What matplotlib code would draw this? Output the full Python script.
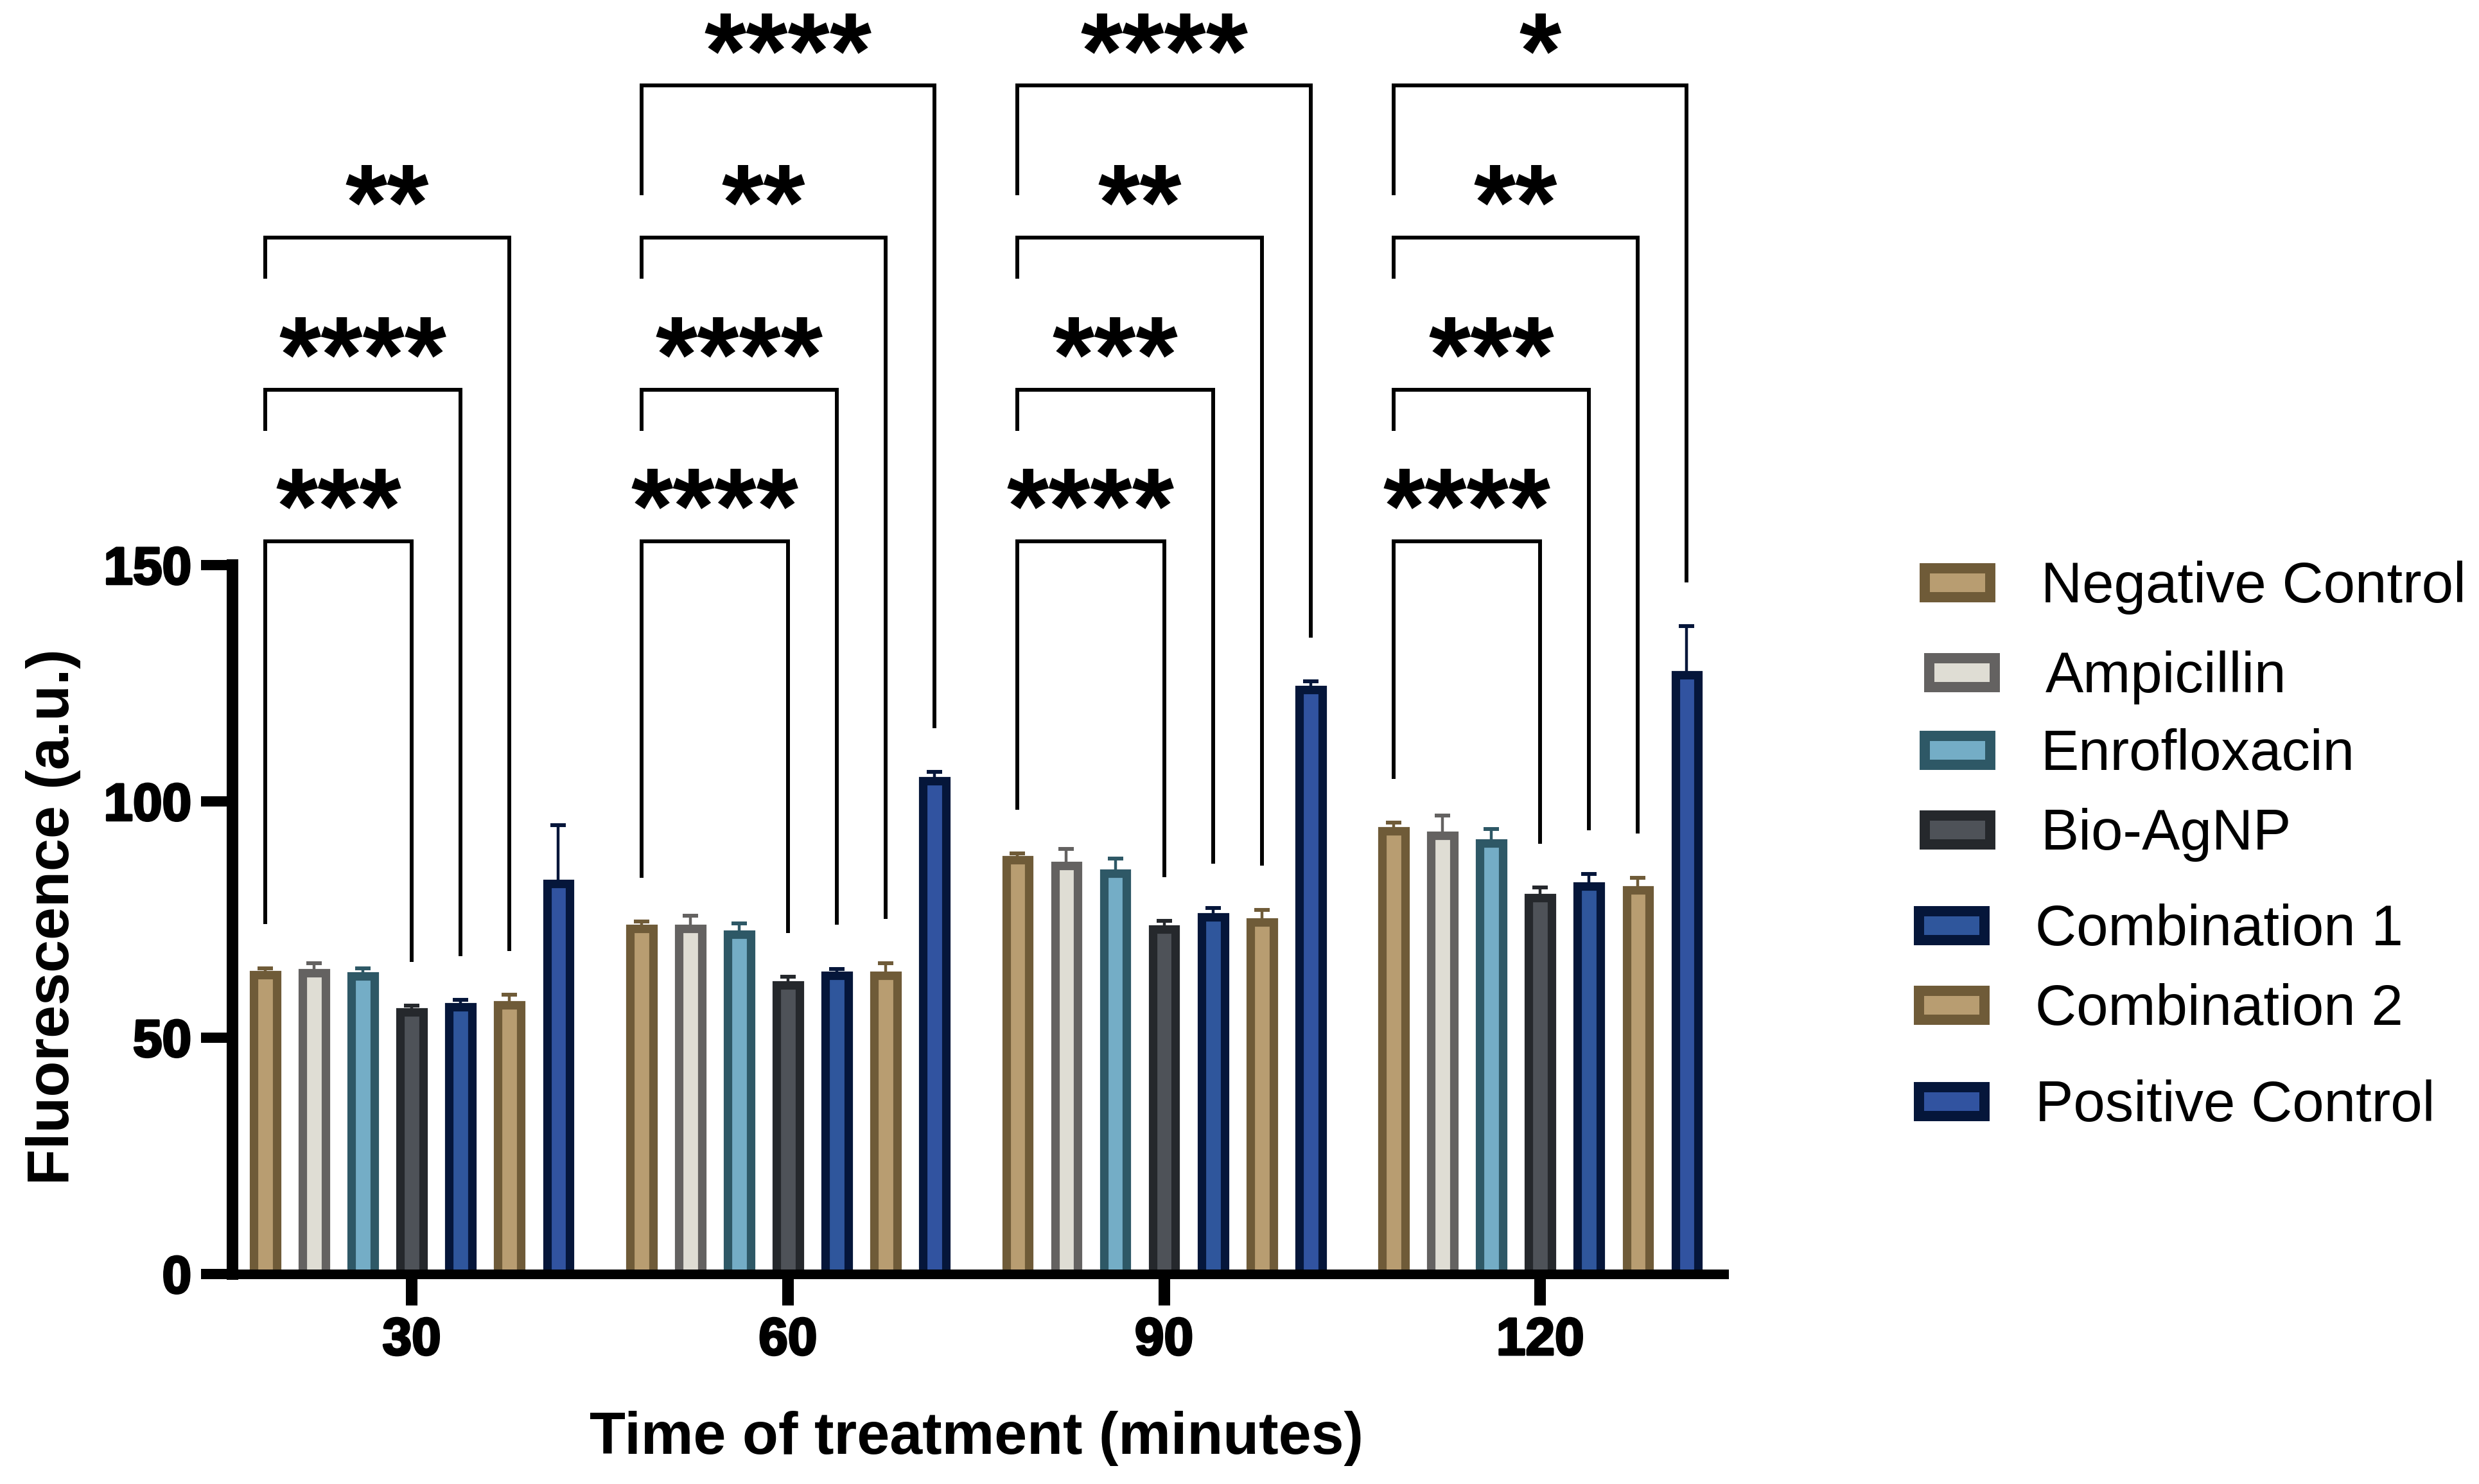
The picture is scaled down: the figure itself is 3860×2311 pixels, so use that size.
import matplotlib
matplotlib.use("Agg")
import matplotlib.pyplot as plt
import matplotlib.patheffects as pe
from matplotlib.patches import Rectangle
import numpy as np

# time points (minutes)
times = ["30", "60", "90", "120"]

series_names = ["Negative Control", "Ampicillin", "Enrofloxacin", "Bio-AgNP",
                "Combination 1", "Combination 2", "Positive Control"]

# mean fluorescence (a.u.) per time point
neg_ctrl = [63.3, 73.1, 87.7, 93.7]
ampicillin = [63.7, 73.1, 86.4, 92.8]
enrofloxacin = [63.0, 71.9, 84.8, 91.2]
bio_agnp = [55.5, 61.1, 72.9, 79.6]
combination_1 = [56.5, 63.2, 75.5, 82.0]
combination_2 = [56.9, 63.2, 74.4, 81.2]
pos_ctrl = [82.6, 104.3, 123.6, 126.8]

# upper error bars
neg_ctrl_err = [1.4, 1.5, 1.3, 1.8]
ampicillin_err = [2.0, 2.7, 3.5, 4.2]
enrofloxacin_err = [1.7, 2.3, 3.1, 3.0]
bio_agnp_err = [1.3, 1.8, 1.8, 2.2]
combination_1_err = [1.5, 1.4, 2.0, 2.6]
combination_2_err = [2.2, 2.6, 2.7, 2.7]
pos_ctrl_err = [12.4, 1.9, 1.8, 10.3]

# comparisons against Negative Control: (series index, stars)
sig_30 = [(3, "***"), (4, "****"), (5, "**")]
sig_60 = [(3, "****"), (4, "****"), (5, "**"), (6, "****")]
sig_90 = [(3, "****"), (4, "***"), (5, "**"), (6, "****")]
sig_120 = [(3, "****"), (4, "***"), (5, "**"), (6, "*")]

means = [neg_ctrl, ampicillin, enrofloxacin, bio_agnp, combination_1, combination_2, pos_ctrl]
errors = [neg_ctrl_err, ampicillin_err, enrofloxacin_err, bio_agnp_err,
          combination_1_err, combination_2_err, pos_ctrl_err]
significance = [sig_30, sig_60, sig_90, sig_120]

edge_colors = ["#6f5b38", "#646261", "#2e5866", "#25282c", "#05163a", "#6f5b38", "#05163a"]
face_colors = ["#b89d71", "#dfddd4", "#74adc6", "#4e5258", "#2f569c", "#b89d71", "#3153a0"]

W, H = 3860, 2311
fig = plt.figure(figsize=(W / 100, H / 100), dpi=100)
ax = fig.add_axes([0.0938, 0.1415, 0.6016, 0.4777])

group_step = 7.7
bar_w = 0.47
centers = np.arange(len(times)) * group_step

for i in range(len(series_names)):
    xs = centers + (i - 3)
    ax.bar(xs, means[i], width=bar_w, color=face_colors[i], edgecolor=edge_colors[i],
           linewidth=9.5, zorder=2)
    ax.errorbar(xs, means[i], yerr=[np.zeros(len(times)), errors[i]], fmt="none",
                ecolor=edge_colors[i], elinewidth=3.2, capsize=8.5, capthick=4.3, zorder=3)

# significance brackets
bracket_base = 155.0
bracket_step = 32.15
leg_gap = 9.3
left_leg = [None, 8.7, 8.7, 23.2]
star_dy = -0.3
line_kw = dict(color="black", lw=4.3, clip_on=False, solid_joinstyle="miter",
               solid_capstyle="butt", zorder=4)
for g, comps in enumerate(significance):
    tops = [means[i][g] + errors[i][g] + leg_gap for i in range(len(series_names))]
    x0 = centers[g] - 3
    for k, (j, stars) in enumerate(comps):
        y = bracket_base + k * bracket_step
        x1 = centers[g] + (j - 3)
        left_end = tops[0] if k == 0 else y - left_leg[k]
        ax.plot([x0, x0, x1, x1], [left_end, y, y, tops[j]], **line_kw)
        ax.text((x0 + x1) / 2, y + star_dy, stars, ha="center", va="baseline",
                fontsize=121, fontweight="bold", family="Liberation Sans", clip_on=False)

ax.set_xlim(-3.67, centers[-1] + 3.76)
ax.set_ylim(0, 150)
ax.set_xticks(centers, times)
ax.set_yticks([0, 50, 100, 150])
ax.tick_params(axis="y", length=35, width=11.5, pad=11, labelsize=59)
ax.tick_params(axis="x", length=35, width=13, pad=13, labelsize=59)
heavy = [pe.withStroke(linewidth=2.5, foreground="black")]
for lbl in ax.get_xticklabels() + ax.get_yticklabels():
    lbl.set_fontweight("bold")
    lbl.set_family("Liberation Sans")
    lbl.set_path_effects(heavy)

for s in ["top", "right"]:
    ax.spines[s].set_visible(False)
ax.spines["left"].set_linewidth(13)
ax.spines["bottom"].set_linewidth(10.8)

ax.set_ylabel("Fluorescence (a.u.)", fontsize=66, fontweight="bold",
              family="Liberation Sans", va="center")
ax.yaxis.set_label_coords(-0.12, 0.5036)
ax.set_xlabel("Time of treatment (minutes)", fontsize=66, fontweight="bold",
              family="Liberation Sans", va="center")
ax.xaxis.set_label_coords(0.4987, -0.232)

# legend drawn by hand to keep the uneven spacing of the original
legend_x = [3048, 3055, 3048, 3048, 3039, 3039, 3039]
legend_y = [907, 1047, 1168, 1292, 1441, 1565, 1715]
for i, name in enumerate(series_names):
    cx, cy = legend_x[i], legend_y[i]
    fig.add_artist(Rectangle(((cx - 51) / W, 1 - (cy + 22.5) / H), 102 / W, 45 / H,
                             transform=fig.transFigure, facecolor=face_colors[i],
                             edgecolor=edge_colors[i], linewidth=11.5))
    fig.text((cx + 130) / W, 1 - (cy + 31) / H, name, fontsize=64,
             family="Liberation Sans", va="baseline")

fig.savefig("out.png", dpi=100)
